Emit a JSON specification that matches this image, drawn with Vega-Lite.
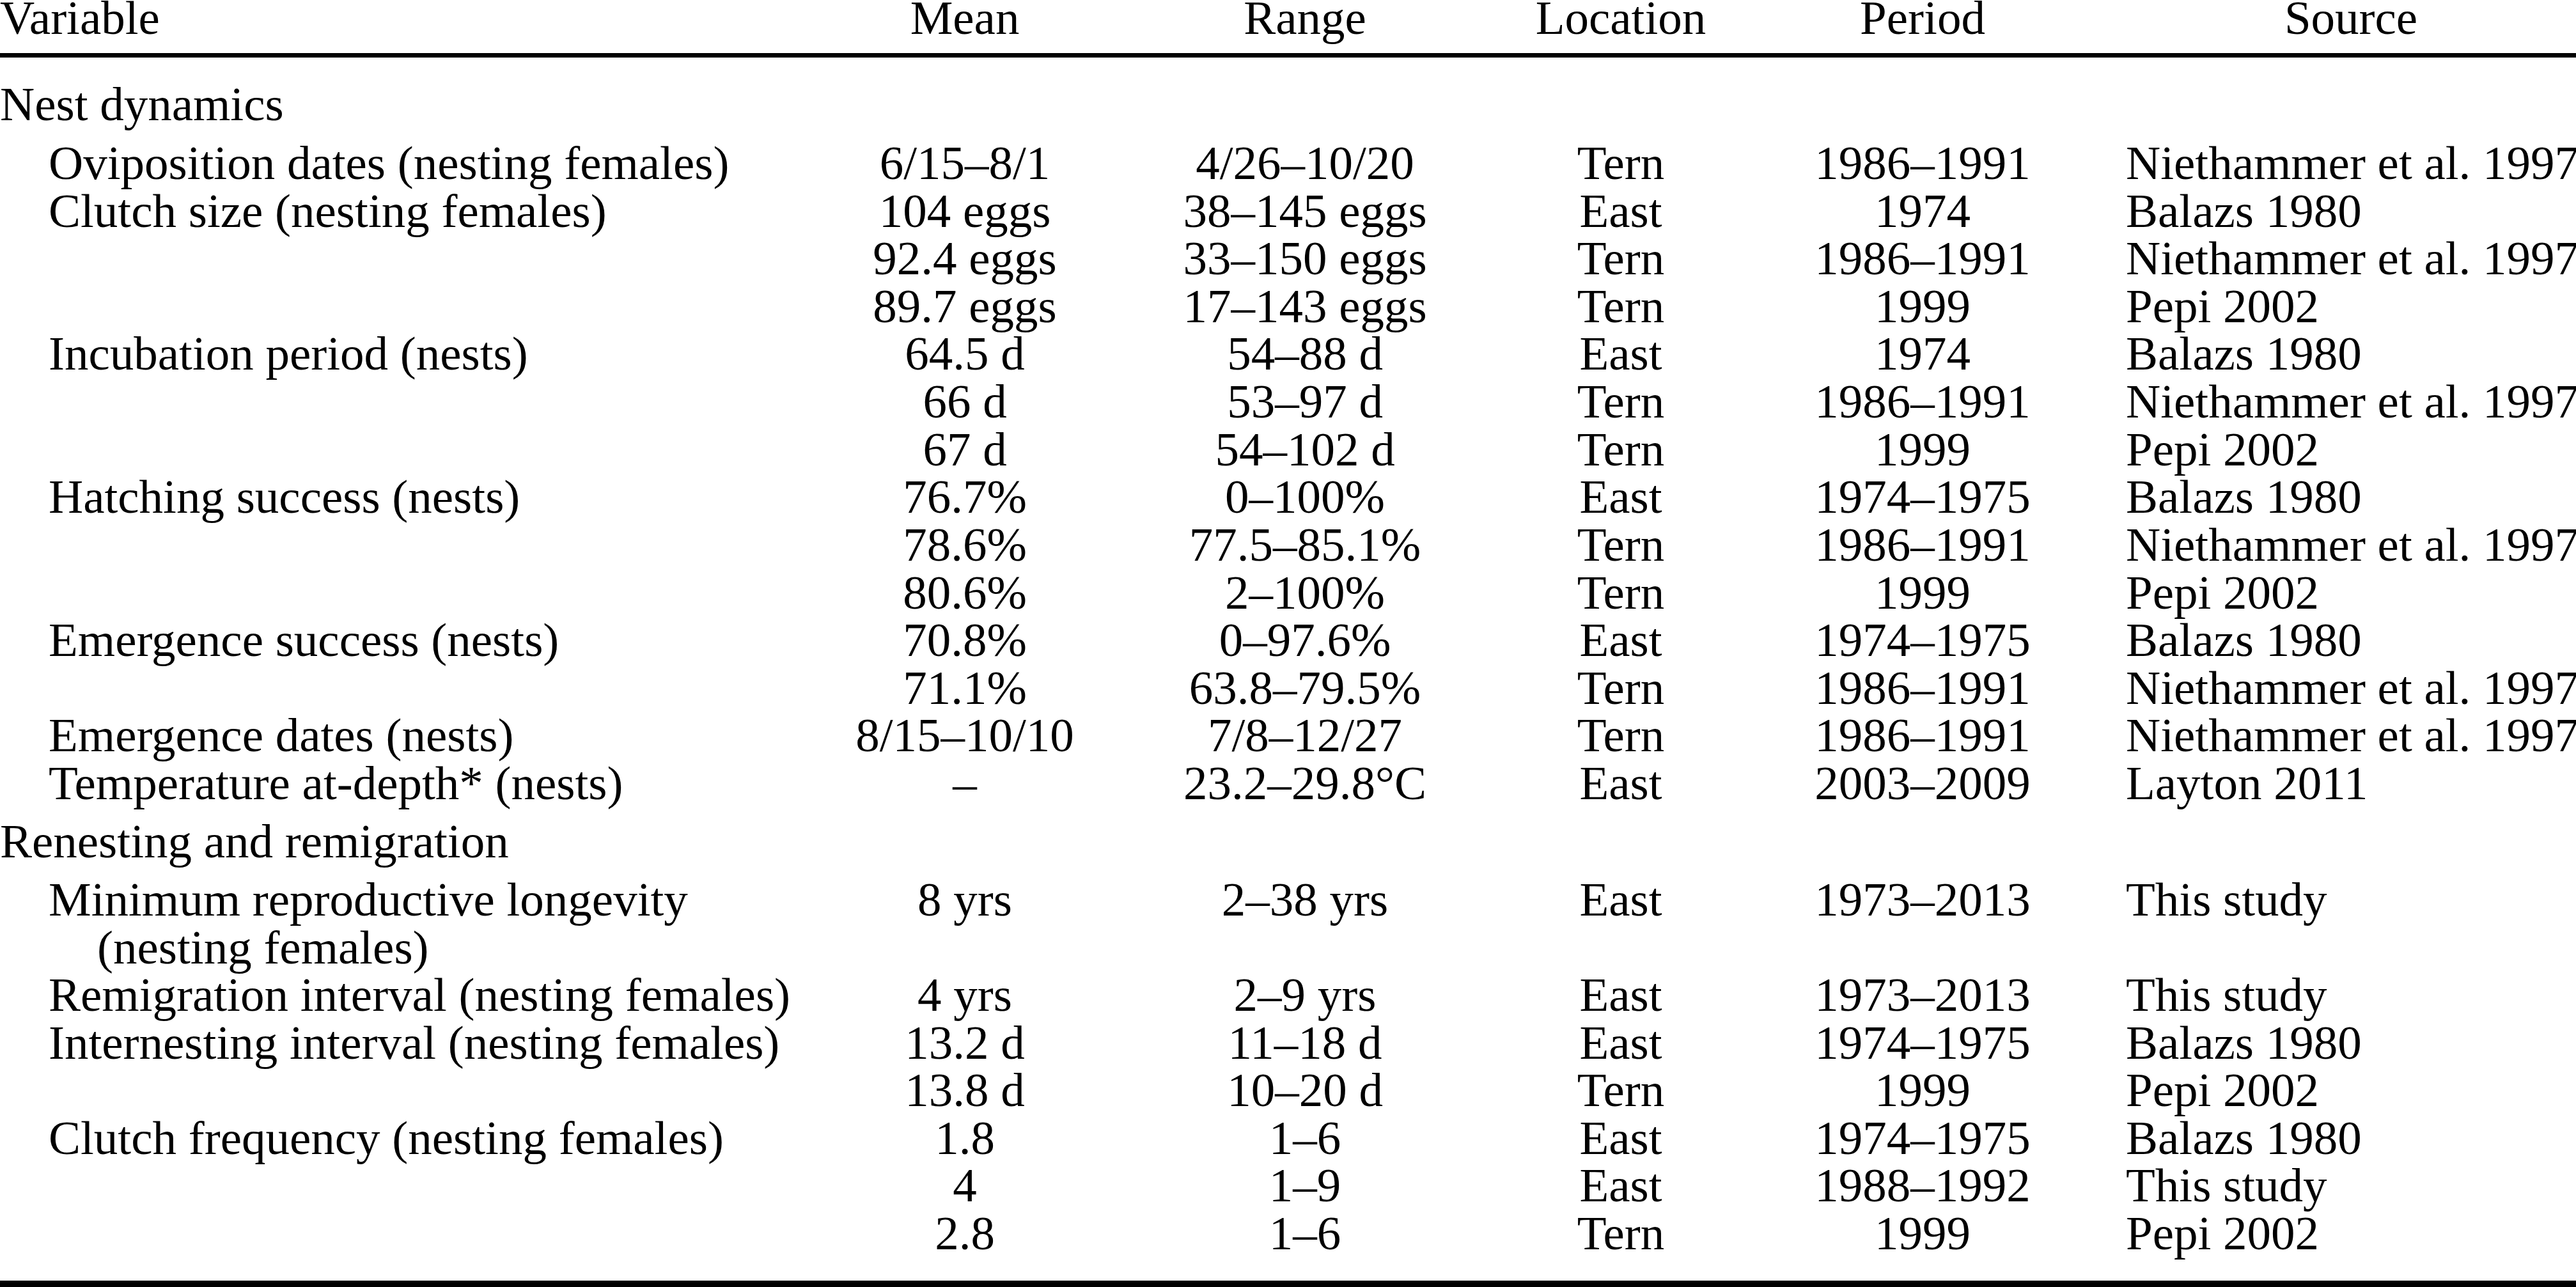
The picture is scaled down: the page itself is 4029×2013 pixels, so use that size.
{
  "$schema": "https://vega.github.io/schema/vega-lite/v6.json",
  "autosize": {"type": "none"},
  "padding": 0,
  "width": 4029,
  "height": 2013,
  "background": "white",
  "config": {
    "view": {"stroke": null},
    "text": {"font": "Liberation Serif", "fontSize": 75, "color": "black", "baseline": "alphabetic"}
  },
  "data": {
    "values": [
      {"line": 0, "role": "header", "level": 0, "variable": "Variable", "mean": "Mean", "range": "Range", "location": "Location", "period": "Period", "source": "Source"},
      {"line": 1, "role": "group", "level": 0, "variable": "Nest dynamics"},
      {"line": 2, "role": "item", "level": 1, "variable": "Oviposition dates (nesting females)", "mean": "6/15–8/1", "range": "4/26–10/20", "location": "Tern", "period": "1986–1991", "source": "Niethammer et al. 1997"},
      {"line": 3, "role": "item", "level": 1, "variable": "Clutch size (nesting females)", "mean": "104 eggs", "range": "38–145 eggs", "location": "East", "period": "1974", "source": "Balazs 1980"},
      {"line": 4, "role": "item", "level": 1, "mean": "92.4 eggs", "range": "33–150 eggs", "location": "Tern", "period": "1986–1991", "source": "Niethammer et al. 1997"},
      {"line": 5, "role": "item", "level": 1, "mean": "89.7 eggs", "range": "17–143 eggs", "location": "Tern", "period": "1999", "source": "Pepi 2002"},
      {"line": 6, "role": "item", "level": 1, "variable": "Incubation period (nests)", "mean": "64.5 d", "range": "54–88 d", "location": "East", "period": "1974", "source": "Balazs 1980"},
      {"line": 7, "role": "item", "level": 1, "mean": "66 d", "range": "53–97 d", "location": "Tern", "period": "1986–1991", "source": "Niethammer et al. 1997"},
      {"line": 8, "role": "item", "level": 1, "mean": "67 d", "range": "54–102 d", "location": "Tern", "period": "1999", "source": "Pepi 2002"},
      {"line": 9, "role": "item", "level": 1, "variable": "Hatching success (nests)", "mean": "76.7%", "range": "0–100%", "location": "East", "period": "1974–1975", "source": "Balazs 1980"},
      {"line": 10, "role": "item", "level": 1, "mean": "78.6%", "range": "77.5–85.1%", "location": "Tern", "period": "1986–1991", "source": "Niethammer et al. 1997"},
      {"line": 11, "role": "item", "level": 1, "mean": "80.6%", "range": "2–100%", "location": "Tern", "period": "1999", "source": "Pepi 2002"},
      {"line": 12, "role": "item", "level": 1, "variable": "Emergence success (nests)", "mean": "70.8%", "range": "0–97.6%", "location": "East", "period": "1974–1975", "source": "Balazs 1980"},
      {"line": 13, "role": "item", "level": 1, "mean": "71.1%", "range": "63.8–79.5%", "location": "Tern", "period": "1986–1991", "source": "Niethammer et al. 1997"},
      {"line": 14, "role": "item", "level": 1, "variable": "Emergence dates (nests)", "mean": "8/15–10/10", "range": "7/8–12/27", "location": "Tern", "period": "1986–1991", "source": "Niethammer et al. 1997"},
      {"line": 15, "role": "item", "level": 1, "variable": "Temperature at-depth* (nests)", "mean": "–", "range": "23.2–29.8°C", "location": "East", "period": "2003–2009", "source": "Layton 2011"},
      {"line": 16, "role": "group", "level": 0, "variable": "Renesting and remigration"},
      {"line": 17, "role": "item", "level": 1, "variable": "Minimum reproductive longevity", "mean": "8 yrs", "range": "2–38 yrs", "location": "East", "period": "1973–2013", "source": "This study"},
      {"line": 18, "role": "cont", "level": 2, "variable": "(nesting females)"},
      {"line": 19, "role": "item", "level": 1, "variable": "Remigration interval (nesting females)", "mean": "4 yrs", "range": "2–9 yrs", "location": "East", "period": "1973–2013", "source": "This study"},
      {"line": 20, "role": "item", "level": 1, "variable": "Internesting interval (nesting females)", "mean": "13.2 d", "range": "11–18 d", "location": "East", "period": "1974–1975", "source": "Balazs 1980"},
      {"line": 21, "role": "item", "level": 1, "mean": "13.8 d", "range": "10–20 d", "location": "Tern", "period": "1999", "source": "Pepi 2002"},
      {"line": 22, "role": "item", "level": 1, "variable": "Clutch frequency (nesting females)", "mean": "1.8", "range": "1–6", "location": "East", "period": "1974–1975", "source": "Balazs 1980"},
      {"line": 23, "role": "item", "level": 1, "mean": "4", "range": "1–9", "location": "East", "period": "1988–1992", "source": "This study"},
      {"line": 24, "role": "item", "level": 1, "mean": "2.8", "range": "1–6", "location": "Tern", "period": "1999", "source": "Pepi 2002"}
    ]
  },
  "encoding": {
    "y": {
      "field": "line",
      "type": "quantitative",
      "axis": null,
      "scale": {"domain": [0, 1, 2, 15, 16, 17, 24], "range": [53, 188, 280, 1250, 1341, 1432, 1954], "nice": false, "zero": false}
    }
  },
  "resolve": {"scale": {"x": "independent"}},
  "layer": [
    {
      "transform": [{"filter": "isValid(datum.variable)"}],
      "mark": {"type": "text", "align": "left"},
      "encoding": {
        "x": {"field": "level", "type": "quantitative", "axis": null, "scale": {"domain": [0, 2], "range": [0, 152], "nice": false, "zero": false}},
        "text": {"field": "variable"}
      }
    },
    {
      "transform": [{"filter": "isValid(datum.mean)"}],
      "mark": {"type": "text", "align": "center"},
      "encoding": {
        "x": {"datum": 1509, "type": "quantitative", "axis": null, "scale": {"domain": [0, 4029], "range": [0, 4029], "nice": false}},
        "text": {"field": "mean"}
      }
    },
    {
      "transform": [{"filter": "isValid(datum.range)"}],
      "mark": {"type": "text", "align": "center"},
      "encoding": {
        "x": {"datum": 2041, "type": "quantitative", "axis": null, "scale": {"domain": [0, 4029], "range": [0, 4029], "nice": false}},
        "text": {"field": "range"}
      }
    },
    {
      "transform": [{"filter": "isValid(datum.location)"}],
      "mark": {"type": "text", "align": "center"},
      "encoding": {
        "x": {"datum": 2535, "type": "quantitative", "axis": null, "scale": {"domain": [0, 4029], "range": [0, 4029], "nice": false}},
        "text": {"field": "location"}
      }
    },
    {
      "transform": [{"filter": "isValid(datum.period)"}],
      "mark": {"type": "text", "align": "center"},
      "encoding": {
        "x": {"datum": 3007, "type": "quantitative", "axis": null, "scale": {"domain": [0, 4029], "range": [0, 4029], "nice": false}},
        "text": {"field": "period"}
      }
    },
    {
      "transform": [{"filter": "isValid(datum.source) && datum.role !== 'header'"}],
      "mark": {"type": "text", "align": "left"},
      "encoding": {
        "x": {"datum": 3325, "type": "quantitative", "axis": null, "scale": {"domain": [0, 4029], "range": [0, 4029], "nice": false}},
        "text": {"field": "source"}
      }
    },
    {
      "transform": [{"filter": "datum.role === 'header'"}],
      "mark": {"type": "text", "align": "center"},
      "encoding": {
        "x": {"datum": 3677, "type": "quantitative", "axis": null, "scale": {"domain": [0, 4029], "range": [0, 4029], "nice": false}},
        "text": {"field": "source"}
      }
    },
    {
      "data": {"values": [{"rule": "top", "pos": 0.248}, {"rule": "bottom", "pos": 24.73}]},
      "mark": {"type": "rule", "color": "black", "strokeCap": "butt"},
      "encoding": {
        "y": {"field": "pos", "type": "quantitative"},
        "strokeWidth": {"field": "rule", "type": "nominal", "legend": null, "scale": {"domain": ["top", "bottom"], "range": [7, 11]}}
      }
    }
  ]
}
